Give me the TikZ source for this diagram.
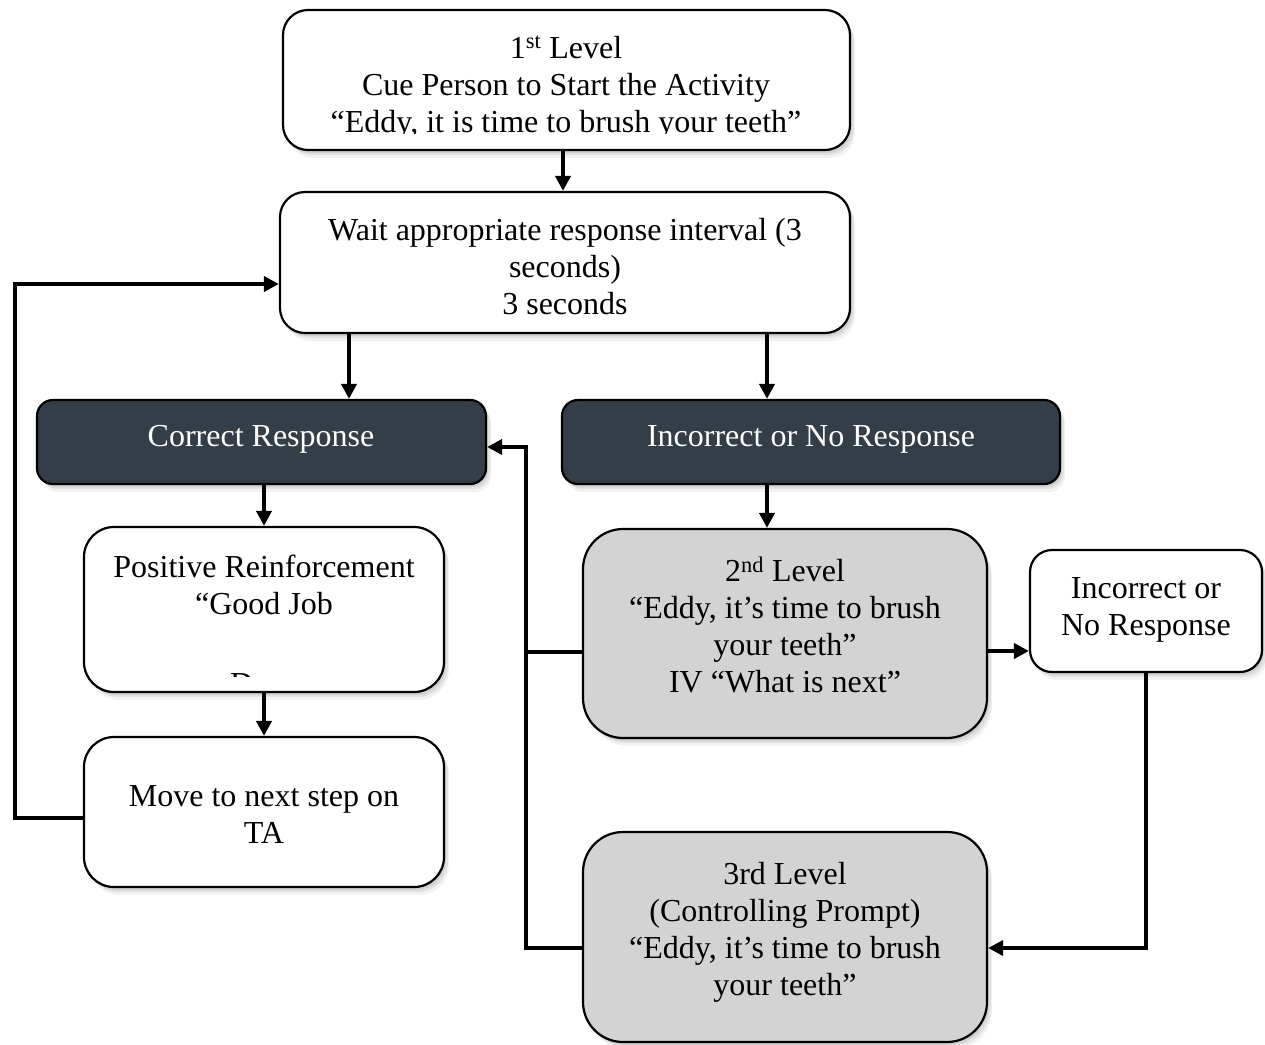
\documentclass[tikz,border=0pt]{standalone}
\usepackage{fontspec}
\setmainfont{Liberation Serif}
\usetikzlibrary{arrows.meta,shadows}
\definecolor{darkbox}{HTML}{343E48}
\definecolor{greybox}{HTML}{D3D3D3}
\begin{document}
\begin{tikzpicture}[x=1pt,y=-1pt,
  box/.style={draw=black, line width=2.2pt, fill=white, inner sep=0pt,
    drop shadow={opacity=0.10, shadow xshift=5pt, shadow yshift=-8pt},
    drop shadow={opacity=0.14, shadow xshift=4pt, shadow yshift=-5pt},
    drop shadow={opacity=0.18, shadow xshift=2pt, shadow yshift=-3pt}},
  darkstyle/.style={box, fill=darkbox, rounded corners=16pt},
  greystyle/.style={box, fill=greybox, rounded corners=40pt},
  txt/.style={align=center, inner sep=0pt, font=\fontsize{32}{37}\selectfont},
  conn/.style={line width=4pt, -{Triangle[length=15pt,width=15pt]}},
  plain/.style={line width=4pt}]
\useasboundingbox (0,0) rectangle (1265,1044);

% boxes
\node[box, rounded corners=25pt, minimum width=567pt, minimum height=140pt] (n1) at (566.5,80) {};
\node[box, rounded corners=25pt, minimum width=570pt, minimum height=141pt] (n2) at (565,262.5) {};
\node[darkstyle, minimum width=449pt, minimum height=84pt] (cr) at (261.5,442) {};
\node[darkstyle, minimum width=498pt, minimum height=84pt] (inc) at (811,442) {};
\node[box, rounded corners=30pt, minimum width=360pt, minimum height=165pt] (pr) at (264,609.5) {};
\node[box, rounded corners=30pt, minimum width=360pt, minimum height=150pt] (mv) at (264,812) {};
\node[greystyle, minimum width=404pt, minimum height=209pt] (l2) at (785,633.5) {};
\node[box, rounded corners=22pt, minimum width=232pt, minimum height=122pt] (sm) at (1146,611) {};
\node[greystyle, minimum width=404pt, minimum height=210pt] (l3) at (785,937) {};

% texts
\begin{scope}
  \clip (283,10) rectangle (850,133);
  \node[txt, anchor=base] (n1a) at (566,58) {1\textsuperscript{st} Level};
  \node[txt, anchor=base] (n1b) at (566,95) {Cue Person to Start the Activity};
  \node[txt, anchor=base] (n1c) at (566,132) {“Eddy, it is time to brush your teeth”};
\end{scope}
\node[txt] (n2t) at (565,267) {Wait appropriate response interval (3\\seconds)\\3 seconds};
\node[txt, text=white] (crt) at (261,439) {Correct Response};
\node[txt, text=white] (inct) at (811,439) {Incorrect or No Response};
\node[txt] (prt) at (264,585) {Positive Reinforcement\\“Good Job};
\begin{scope}
  \clip (84,527) rectangle (444,676.5);
  \node[txt, anchor=base west] (prd) at (230,694) {D};
\end{scope}
\node[txt] (mvt) at (264,815) {Move to next step on\\TA};
\node[txt] (l2t) at (785,625) {2\textsuperscript{nd} Level\\“Eddy, it’s time to brush\\your teeth”\\IV “What is next”};
\node[txt] (smt) at (1146,609.5) {Incorrect or\\No Response};
\node[txt] (l3t) at (785,932.5) {3rd Level\\(Controlling Prompt)\\“Eddy, it’s time to brush\\your teeth”};

% connectors
\coordinate (jn) at (526,652);
\draw[conn] (n1.south -| 563,0) -- (n2.north -| 563,0);
\draw[conn] (n2.south -| 349,0) -- (cr.north -| 349,0);
\draw[conn] (n2.south -| 767,0) -- (inc.north -| 767,0);
\draw[conn] (cr.south -| 264,0) -- (pr.north);
\draw[conn] (pr.south) -- (mv.north);
\draw[conn] (inc.south -| 767,0) -- (l2.north -| 767,0);
\draw[conn] (l2.east |- 0,651) -- (sm.west |- 0,651);
\draw[conn] (sm.south) -- (sm.south |- 0,948) -- (l3.east |- 0,948);
\draw[conn] (l3.west |- 0,948) -- (526,948) -- (526,447) -- (cr.east |- 0,447);
\draw[plain] (l2.west |- jn) -- (jn);
\draw[conn] (mv.west |- 0,818) -- (15,818) -- (15,284) -- (n2.west |- 0,284);
\end{tikzpicture}
\end{document}
